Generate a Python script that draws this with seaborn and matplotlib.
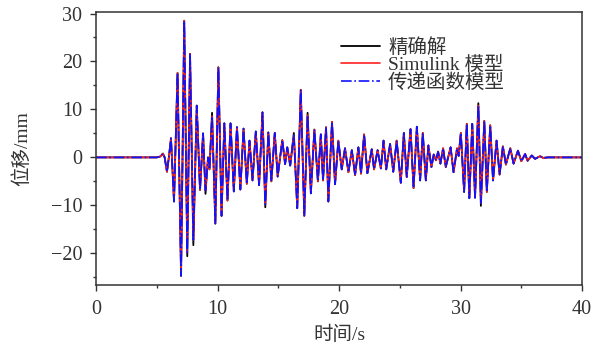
import pandas as pd
import matplotlib
matplotlib.use("Agg")
import matplotlib.pyplot as plt
import seaborn as sns

# extrema of the displacement history (time s, displacement mm)
t = [0, 5.0, 5.3, 5.51, 5.65, 5.84, 6.02, 6.17, 6.42, 6.71, 7.0, 7.26, 7.51, 7.74,
     8.01, 8.29, 8.56, 8.81, 9.01, 9.22, 9.34, 9.55, 9.82, 10.07, 10.33, 10.56,
     10.82, 11.07, 11.34, 11.6, 11.88, 12.14, 12.41, 12.63, 12.88, 13.15, 13.42,
     13.7, 13.93, 14.18, 14.43, 14.71, 14.95, 15.33, 15.56, 15.74, 15.98, 16.28,
     16.56, 16.85, 17.14, 17.41, 17.68, 17.97, 18.26, 18.5, 18.68, 18.93, 19.12,
     19.42, 19.67, 19.94, 20.22, 20.49, 20.77, 21.05, 21.32, 21.59, 21.81, 22.06,
     22.33, 22.69, 22.88, 23.17, 23.44, 23.66, 23.88, 24.2, 24.46, 24.74, 25.08,
     25.33, 25.57, 25.88, 26.13, 26.4, 26.67, 26.89, 27.14, 27.35, 27.6, 27.79,
     27.98, 28.15, 28.34, 28.56, 28.78, 29.18, 29.42, 29.71, 29.84, 30.02, 30.29,
     30.51, 30.72, 30.96, 31.19, 31.46, 31.67, 31.95, 32.16, 32.44, 32.67, 32.96,
     33.21, 33.48, 33.73, 34.09, 34.36, 34.72, 35.0, 35.31, 35.51, 35.86, 36.13,
     36.54, 36.79, 37.2, 40]
exact = [0, 0, 0.2, 0.8, 0.0, -3.0, 0.5, 4.0, -9.2, 17.6, -24.7, 28.5, -20.6, 21.6,
         -18.3, 10.8, -6.8, 5.0, -7.6, 0.0, -2.5, 9.3, -13.8, 18.8, -12.2, 7.1,
         -9.0, 7.1, -7.1, 6.3, -6.7, 6.0, -5.5, 3.5, -4.8, 5.4, -5.8,
         9.4, -10.4, 5.2, -5.0, 5.1, -4.0, 3.6, -1.4, 2.1, -1.7, 5.1,
         -10.6, 14.1, -12.2, 9.3, -7.5, 5.8, -5.0, 4.8, -4.8, 6.3, -9.2,
         7.4, -5.6, 3.5, -2.5, 1.9, -3.1, 1.5, -3.7, 2.1, -3.4, 4.8,
         -3.3, 1.7, -2.5, 1.5, -2.3, 3.5, -2.5, 2.8, -3.0, 3.5, -5.3,
         5.1, -4.1, 5.9, -6.4, 6.4, -4.8, 5.1, -4.8, 2.5, -2.0, 0.6,
         -0.6, 1.2, -1.3, 1.9, -2.0, 2.1, -3.1, 1.9, 0.3, 5.1, -7.2,
         7.0, -8.5, 7.0, -8.4, 11.3, -10.1, 7.6, -7.2, 6.7, -4.8, 3.5,
         -3.6, 2.3, -1.5, 1.9, -1.3, 1.4, -0.8, 0.7, -0.7, 0.4, -0.3,
         0.25, -0.1, 0, 0]
# peaks where the two models fall slightly short of the exact curve
model_diff = {7.51: -19.8, 8.01: -17.2, 9.01: -6.9, 9.55: 8.6, 13.93: -9.8,
              16.28: 4.6, 31.46: 10.8, 31.67: -9.5, 17.41: 8.8}

simulink = [model_diff.get(ti, yi) for ti, yi in zip(t, exact)]
transfer = list(simulink)

df = pd.DataFrame({"t": t, "exact": exact, "sim": simulink, "tf": transfer})

sns.set_style("ticks")
plt.rcParams["font.family"] = ["Liberation Serif", "Noto Sans CJK SC"]
plt.rcParams["axes.unicode_minus"] = True

fig, ax = plt.subplots(figsize=(5.94, 3.45), dpi=100)
fig.subplots_adjust(left=0.1616, right=0.98, bottom=0.174, top=0.965)

sns.lineplot(data=df, x="t", y="exact", ax=ax, color="black", lw=1.3, label="精确解")
sns.lineplot(data=df, x="t", y="sim", ax=ax, color="#ff2020", lw=1.2, label="Simulink 模型")
sns.lineplot(data=df, x="t", y="tf", ax=ax, color="#1010ff", lw=1.2, linestyle="-.",
             label="传递函数模型")

ax.set_xlim(0, 40)
ax.set_ylim(-26.6, 30.3)
ax.set_xticks([0, 10, 20, 30, 40])
ax.set_xticks([5, 15, 25, 35], minor=True)
ax.set_yticks([-20, -10, 0, 10, 20, 30])
ax.set_yticks([-25, -15, -5, 5, 15, 25], minor=True)
ax.set_yticklabels(["\u221220", "\u221210", "0", "10", "20", "30"])
ax.tick_params(axis="both", which="major", labelsize=14.5, length=4, width=1,
               colors="#333333", direction="out")
ax.tick_params(axis="x", which="major", pad=7)
ax.tick_params(axis="y", which="major", pad=6)
ax.tick_params(axis="both", which="minor", length=2.5, width=1, colors="#333333")
for s in ax.spines.values():
    s.set_color("#333333")
    s.set_linewidth(1.1)

ax.set_xlabel("时间/s", fontsize=14, color="#333333", labelpad=5)
ax.set_ylabel("位移/mm", fontsize=14, color="#333333", labelpad=14)

leg = ax.legend(loc="upper left", bbox_to_anchor=(0.505, 0.905), frameon=False,
                fontsize=14, handlelength=2.0, handletextpad=0.4, labelspacing=-0.05,
                borderpad=0, borderaxespad=0)
for txt in leg.get_texts():
    txt.set_color("#333333")

fig.savefig("out.png", dpi=100)
